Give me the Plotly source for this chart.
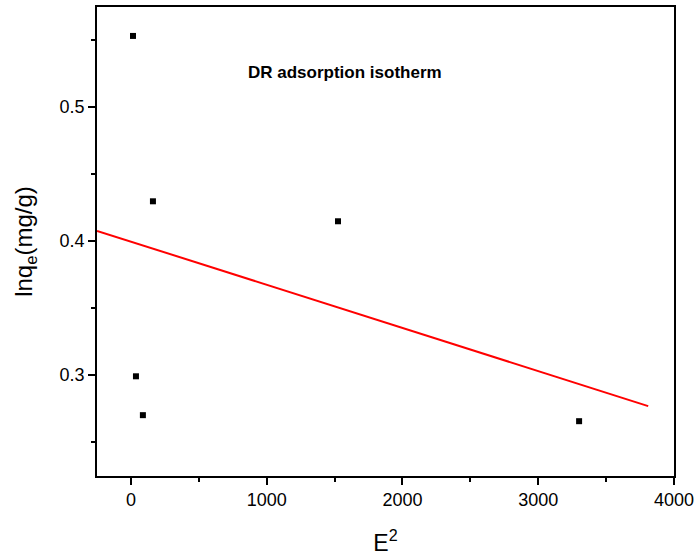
import numpy as np
import plotly.graph_objects as go

# Data
e2 = [15, 162, 1525, 37, 88, 3301]
lnqe = [0.553, 0.4296, 0.4147, 0.299, 0.270, 0.2655]
fit_x = [-250, 3810]

slope, intercept = np.polyfit(e2, lnqe, 1)
fit_y = [slope * x + intercept for x in fit_x]

fig = go.Figure()
fig.add_trace(go.Scatter(x=fit_x, y=fit_y, mode="lines",
                         line=dict(color="#ff0000", width=2), showlegend=False))
fig.add_trace(go.Scatter(x=e2, y=lnqe, mode="markers",
                         marker=dict(symbol="square", size=6, color="black"),
                         showlegend=False))

font = "Liberation Sans, Arial, sans-serif"
fig.update_layout(
    width=698, height=556,
    margin=dict(l=97, r=24, t=7, b=80),
    plot_bgcolor="white", paper_bgcolor="white",
    font=dict(family=font, size=18, color="black"),
    annotations=[dict(text="<b>DR adsorption isotherm</b>", xref="paper", yref="paper",
                      x=0.43, y=0.86, yanchor="middle", showarrow=False,
                      font=dict(family=font, size=17, color="black"))],
)
fig.update_xaxes(
    range=[-250, 4000], tickmode="array", tickvals=[0, 1000, 2000, 3000, 4000],
    ticks="outside", ticklen=7, tickwidth=1.5, tickcolor="black",
    showline=True, linecolor="black", linewidth=1.5, mirror=True,
    showgrid=False, zeroline=False, automargin=False,
    minor=dict(tickvals=[500, 1500, 2500, 3500], ticks="outside", ticklen=4, tickwidth=1.5, tickcolor="black"),
    title=dict(text="E<sup>2</sup>", font=dict(size=23), standoff=30),
    tickfont=dict(size=18),
)
fig.update_yaxes(
    range=[0.2246, 0.5746], tickmode="array", tickvals=[0.3, 0.4, 0.5],
    ticks="outside", ticklen=7, tickwidth=1.5, tickcolor="black",
    showline=True, linecolor="black", linewidth=1.5, mirror=True,
    showgrid=False, zeroline=False, automargin=False,
    minor=dict(tickvals=[0.25, 0.35, 0.45, 0.55], ticks="outside", ticklen=4, tickwidth=1.5, tickcolor="black"),
    title=dict(text="lnq<sub>e</sub>(mg/g)", font=dict(size=24), standoff=20),
    tickfont=dict(size=18),
)
fig.write_html("out.html")
